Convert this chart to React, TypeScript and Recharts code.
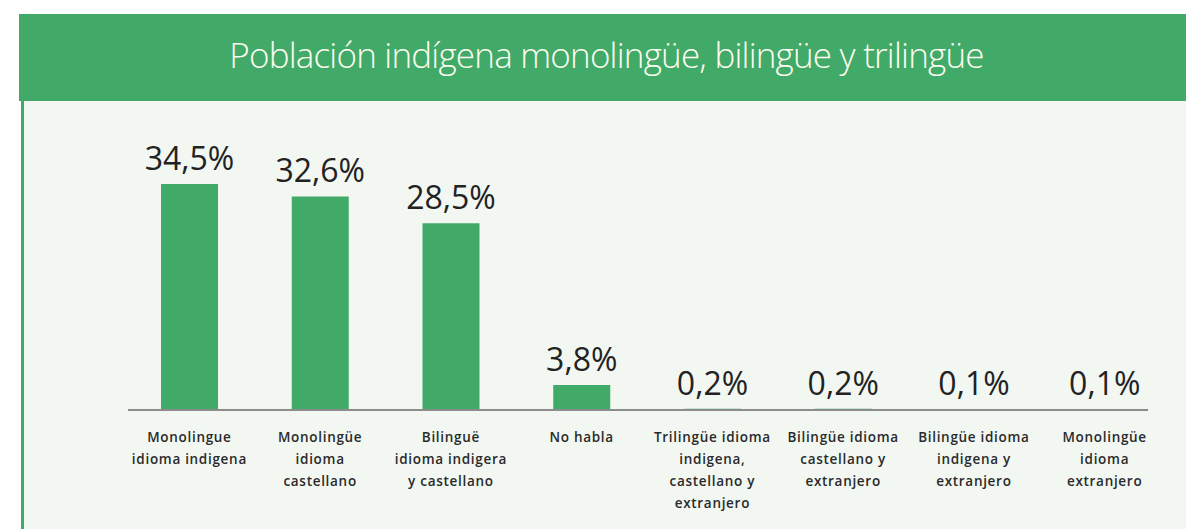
import React from "react";
import { BarChart, Bar, XAxis, YAxis, LabelList } from "recharts";

const categories = [
  "Monolingue\nidioma indigena",
  "Monolingüe\nidioma\ncastellano",
  "Bilinguë\nidioma indigera\ny castellano",
  "No habla",
  "Trilingüe idioma\nindigena,\ncastellano y\nextranjero",
  "Bilingüe idioma\ncastellano y\nextranjero",
  "Bilingüe idioma\nindigena y\nextranjero",
  "Monolingüe\nidioma\nextranjero",
];
const values = [34.5, 32.6, 28.5, 3.8, 0.2, 0.2, 0.1, 0.1];
const valueLabels = ["34,5%", "32,6%", "28,5%", "3,8%", "0,2%", "0,2%", "0,1%", "0,1%"];
const title = "Población indígena monolingüe, bilingüe y trilingüe";

const data = categories.map((c, i) => ({ cat: c, value: values[i], label: valueLabels[i] }));

const GREEN = "#42AA68";

const Tick = (props: any) => {
  const { x, y, payload } = props;
  const lines = String(payload.value).split("\n");
  return (
    <g transform={`translate(${x},${y})`}>
      {lines.map((l: string, i: number) => (
        <text
          key={i}
          x={0}
          y={24 + i * 22}
          textAnchor="middle"
          fontFamily="'Open Sans', sans-serif"
          fontWeight={600}
          fontSize={13.5}
          fill="#2a2a2a"
          letterSpacing={0.7}
        >
          {l}
        </text>
      ))}
    </g>
  );
};

export default function App() {
  return (
    <div style={{ position: "absolute", left: 0, top: 0, width: 1186, height: 529, background: "#fff", overflow: "hidden" }}>
      <div style={{ position: "absolute", left: 19, top: 14, width: 1167, height: 87, background: GREEN, display: "flex", alignItems: "center", justifyContent: "center" }}>
        <div style={{ color: "#FCFDF0", fontFamily: "'Open Sans', sans-serif", fontWeight: 300, fontSize: 35, letterSpacing: -0.8, marginLeft: 8, marginTop: -6, whiteSpace: "nowrap" }}>
          {title}
        </div>
      </div>
      <div style={{ position: "absolute", left: 21, top: 101, width: 1165, height: 428, background: "#F2F7F2", borderLeft: `3px solid ${GREEN}` }} />
      <div style={{ position: "absolute", left: 0, top: 0 }}>
        <BarChart width={1186} height={529} data={data} margin={{ top: 184, bottom: 89, left: 128, right: 38 }} barSize={57}>
          <YAxis hide domain={[0, 34.5]} />
          <XAxis
            dataKey="cat"
            interval={0}
            height={30}
            tickLine={false}
            padding={{ left: -4, right: -22 }}
            axisLine={{ stroke: "#8c8c8c", strokeWidth: 2 }}
            tick={<Tick />}
          />
          <Bar dataKey="value" fill={GREEN} isAnimationActive={false}>
            <LabelList
              dataKey="label"
              position="top"
              offset={14}
              fill="#222"
              fontSize={32}
              fontFamily="'Open Sans', sans-serif"
            />
          </Bar>
        </BarChart>
      </div>
    </div>
  );
}
